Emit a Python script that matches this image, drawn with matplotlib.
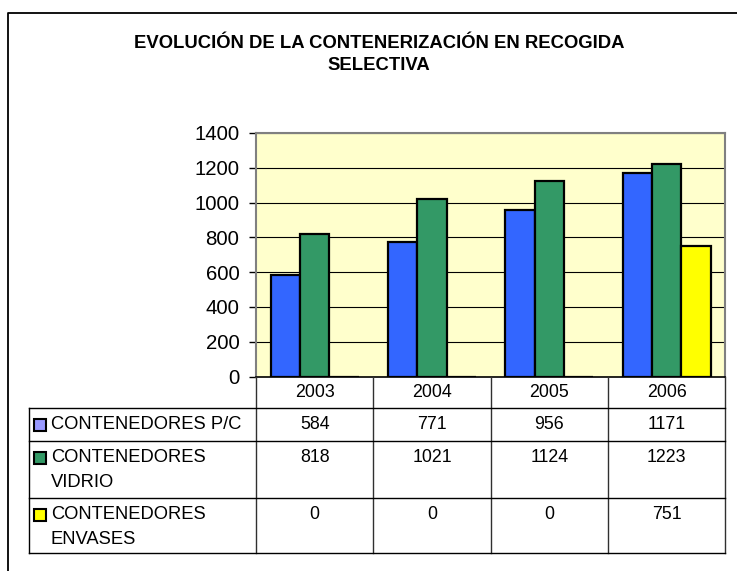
import numpy as np
import matplotlib; matplotlib.use("Agg"); import matplotlib.pyplot as plt
from matplotlib.patches import Rectangle

plt.rcParams["font.family"] = ["Liberation Sans", "DejaVu Sans"]

# ------------------------------------------------------------------ data
title = "EVOLUCIÓN DE LA CONTENERIZACIÓN EN RECOGIDA\nSELECTIVA"
years = ["2003", "2004", "2005", "2006"]
series = ["CONTENEDORES P/C", "CONTENEDORES\nVIDRIO", "CONTENEDORES\nENVASES"]
pc = [584, 771, 956, 1171]
vidrio = [818, 1021, 1124, 1223]
envases = [0, 0, 0, 751]
values = [pc, vidrio, envases]
yticks = [0, 200, 400, 600, 800, 1000, 1200, 1400]

bar_colors = ["#3366FF", "#339966", "#FFFF00"]
key_colors = ["#9999FF", "#339966", "#FFFF00"]

# ------------------------------------------------------------------ layout (pixels)
W, H = 737, 571
px_l, px_r, px_t, px_b = 256, 725.3, 133, 376.5
row_lines = [408.3, 441, 498.3, 553.3]
tab_left = 29.3
line_step = 25

fig = plt.figure(figsize=(W / 100, H / 100), dpi=100)
fig.patch.set_facecolor("white")

ax = fig.add_axes([px_l / W, 1 - px_b / H, (px_r - px_l) / W, (px_b - px_t) / H])
ax.set_facecolor("#FFFFCC")
x = np.arange(len(years))
bw = 0.25
for i, (vals, c) in enumerate(zip(values, bar_colors)):
    ax.bar(x + (i - 1) * bw, vals, bw, color=c, edgecolor="black", linewidth=1.6, zorder=3)
ax.set_xlim(-0.5, len(years) - 0.5)
ax.set_ylim(0, 1400)
ax.set_yticks(yticks)
ax.set_yticklabels([str(v) for v in yticks], fontsize=14.7)
ax.set_xticks([])
ax.tick_params(axis="y", length=5, width=1, pad=7, color="black")
ax.yaxis.grid(True, color="black", lw=0.8, zorder=1)
ax.set_axisbelow(True)
for s in ["top", "right", "left"]:
    ax.spines[s].set_color("#808080"); ax.spines[s].set_linewidth(1.5)
ax.spines["bottom"].set_color("black"); ax.spines["bottom"].set_linewidth(1.2)
ax.spines["bottom"].set_zorder(4)

# ------------------------------------------------------------------ overlay: frame, title, data table
ov = fig.add_axes([0, 0, 1, 1], zorder=5)
ov.set_xlim(0, W); ov.set_ylim(H, 0); ov.axis("off"); ov.patch.set_alpha(0)

ov.plot([8, 8, W], [H, 12.5, 12.5], color="black", lw=1.3, solid_capstyle="butt")

for k, line in enumerate(title.split("\n")):
    ov.text(379, 43 + k * 23, line, ha="center", va="center", fontsize=13.3, fontweight="bold")

col_w = (px_r - px_l) / len(years)
col_x = [px_l + j * col_w for j in range(len(years) + 1)]
for xx in col_x:
    ov.plot([xx, xx], [px_b, row_lines[-1]], color="#303030", lw=1)
ov.plot([tab_left, tab_left], [row_lines[0], row_lines[-1]], color="black", lw=1)
for yy in row_lines:
    ov.plot([tab_left, px_r], [yy, yy], color="black", lw=1)

for j, yr in enumerate(years):
    ov.text(col_x[j] + col_w / 2, (px_b + row_lines[0]) / 2 + 0.5, yr, ha="center", va="center", fontsize=12.8)

for i, (name, vals, kc) in enumerate(zip(series, values, key_colors)):
    top = row_lines[i]
    y0 = top + 16.5
    ov.add_patch(Rectangle((34, y0 - 6), 12, 12, facecolor=kc, edgecolor="black", lw=1.5))
    for k, line in enumerate(name.split("\n")):
        ov.text(51, y0 + k * line_step, line, ha="left", va="center", fontsize=13.2)
    for j, v in enumerate(vals):
        ov.text(col_x[j] + col_w / 2, y0, str(v), ha="center", va="center", fontsize=12.8)

fig.savefig("out.png", dpi=100)
